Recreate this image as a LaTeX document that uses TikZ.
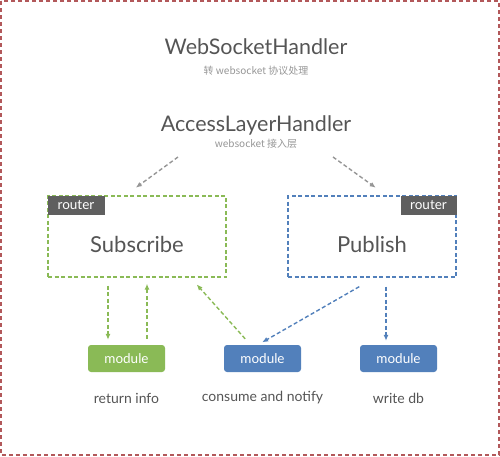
\documentclass[tikz,border=0pt]{standalone}
\usepackage{fontspec}
\usepackage{xcolor}
\usetikzlibrary{arrows.meta}
\setmainfont{Lato}
\newfontfamily\cjk{Noto Sans CJK SC}
\definecolor{frame}{RGB}{178,88,90}
\definecolor{leaf}{RGB}{138,186,86}
\definecolor{sea}{RGB}{82,128,187}
\definecolor{ink}{RGB}{85,85,85}
\definecolor{pale}{RGB}{150,150,150}
\definecolor{tag}{RGB}{95,95,95}

\begin{document}
\begin{tikzpicture}[x=1pt,y=-1pt]
	\tikzstyle{ttl} = [text=ink,inner sep=0pt,font=\fontsize{21.5}{22}\selectfont];
	\tikzstyle{sub} = [text=pale,inner sep=0pt,font=\cjk\fontsize{10}{10}\selectfont];
	\tikzstyle{box} = [draw,line width=1.4pt,dash pattern=on 4pt off 2.5pt,minimum height=81pt];
	\tikzstyle{big} = [text=ink,inner sep=0pt,font=\fontsize{22}{22}\selectfont];
	\tikzstyle{rt} = [fill=tag,text=white,inner sep=0pt,minimum width=57pt,minimum height=19pt,font=\fontsize{13.5}{13.5}\selectfont];
	\tikzstyle{mod} = [rounded corners=3pt,text=white,inner sep=0pt,minimum width=77pt,minimum height=27pt,font=\fontsize{13.5}{13.5}\selectfont];
	\tikzstyle{lbl} = [text=ink,inner sep=0pt,font=\fontsize{14}{14}\selectfont];
	\tikzstyle{arr} = [line width=1.4pt,dash pattern=on 4pt off 2.5pt,-{Latex[length=6pt,width=5pt]}];
	\useasboundingbox (0,0) rectangle (500,456);
	\draw [frame,line width=1.3pt,dash pattern=on 4pt off 3pt] (1,1) rectangle (499,455);
	% handlers
	\node (wsh) at (256,47) [ttl] {WebSocketHandler};
	\node (wshs) at (256,71) [sub] {转 websocket 协议处理};
	\node (alh) at (256,125) [ttl] {AccessLayerHandler};
	\node (alhs) at (256,144) [sub] {websocket 接入层};
	\coordinate (ga) at (178,157);
	\coordinate (gb) at (333,157);
	% routers
	\node (subs) at (137,236.5) [box,leaf,minimum width=178pt] {};
	\node (pubs) at (372,236.5) [box,sea,minimum width=168pt] {};
	\node (subt) at ([yshift=-8pt]subs.center) [big] {Subscribe};
	\node (pubt) at ([yshift=-8pt]pubs.center) [big] {Publish};
	\node (rs) at (subs.north west) [rt,anchor=north west] {router};
	\node (rp) at (pubs.north east) [rt,anchor=north east,minimum width=56pt] {router};
	% modules
	\node (ma) at (126.5,358.5) [mod,fill=leaf] {module};
	\node (mb) at (262.5,358.5) [mod,fill=sea] {module};
	\node (mc) at (398.5,358.5) [mod,fill=sea] {module};
	\node (la) at (ma |- 0,398) [lbl] {return info};
	\node (lb) at (mb |- 0,398) [lbl] {consume and notify};
	\node (lc) at (mc |- 0,398) [lbl] {write db};
	% arrows
	\draw [arr,pale,shorten >=13pt] (ga) -- ([xshift=78pt]subs.north west);
	\draw [arr,pale,shorten >=13pt] (gb) -- ([xshift=99pt]pubs.north west);
	\draw [arr,leaf,shorten <=8pt,shorten >=5pt] ([xshift=-18.5pt]ma.north |- subs.south) -- ([xshift=-18.5pt]ma.north);
	\draw [arr,leaf,shorten <=6pt,shorten >=6pt] ([xshift=20.5pt]ma.north) -- ([xshift=20.5pt]ma.north |- subs.south);
	\draw [arr,leaf,shorten <=8pt,shorten >=9pt] ([xshift=-12pt]mb.north) -- ([xshift=-36pt]subs.south east);
	\draw [arr,sea,shorten <=18pt,shorten >=5pt] ([xshift=87.6pt]pubs.south west) -- ([xshift=-4.7pt]mb.north);
	\draw [arr,sea,shorten <=9pt,shorten >=4pt] ([xshift=-12.5pt]mc.north |- pubs.south) -- ([xshift=-12.5pt]mc.north);
\end{tikzpicture}
\end{document}
